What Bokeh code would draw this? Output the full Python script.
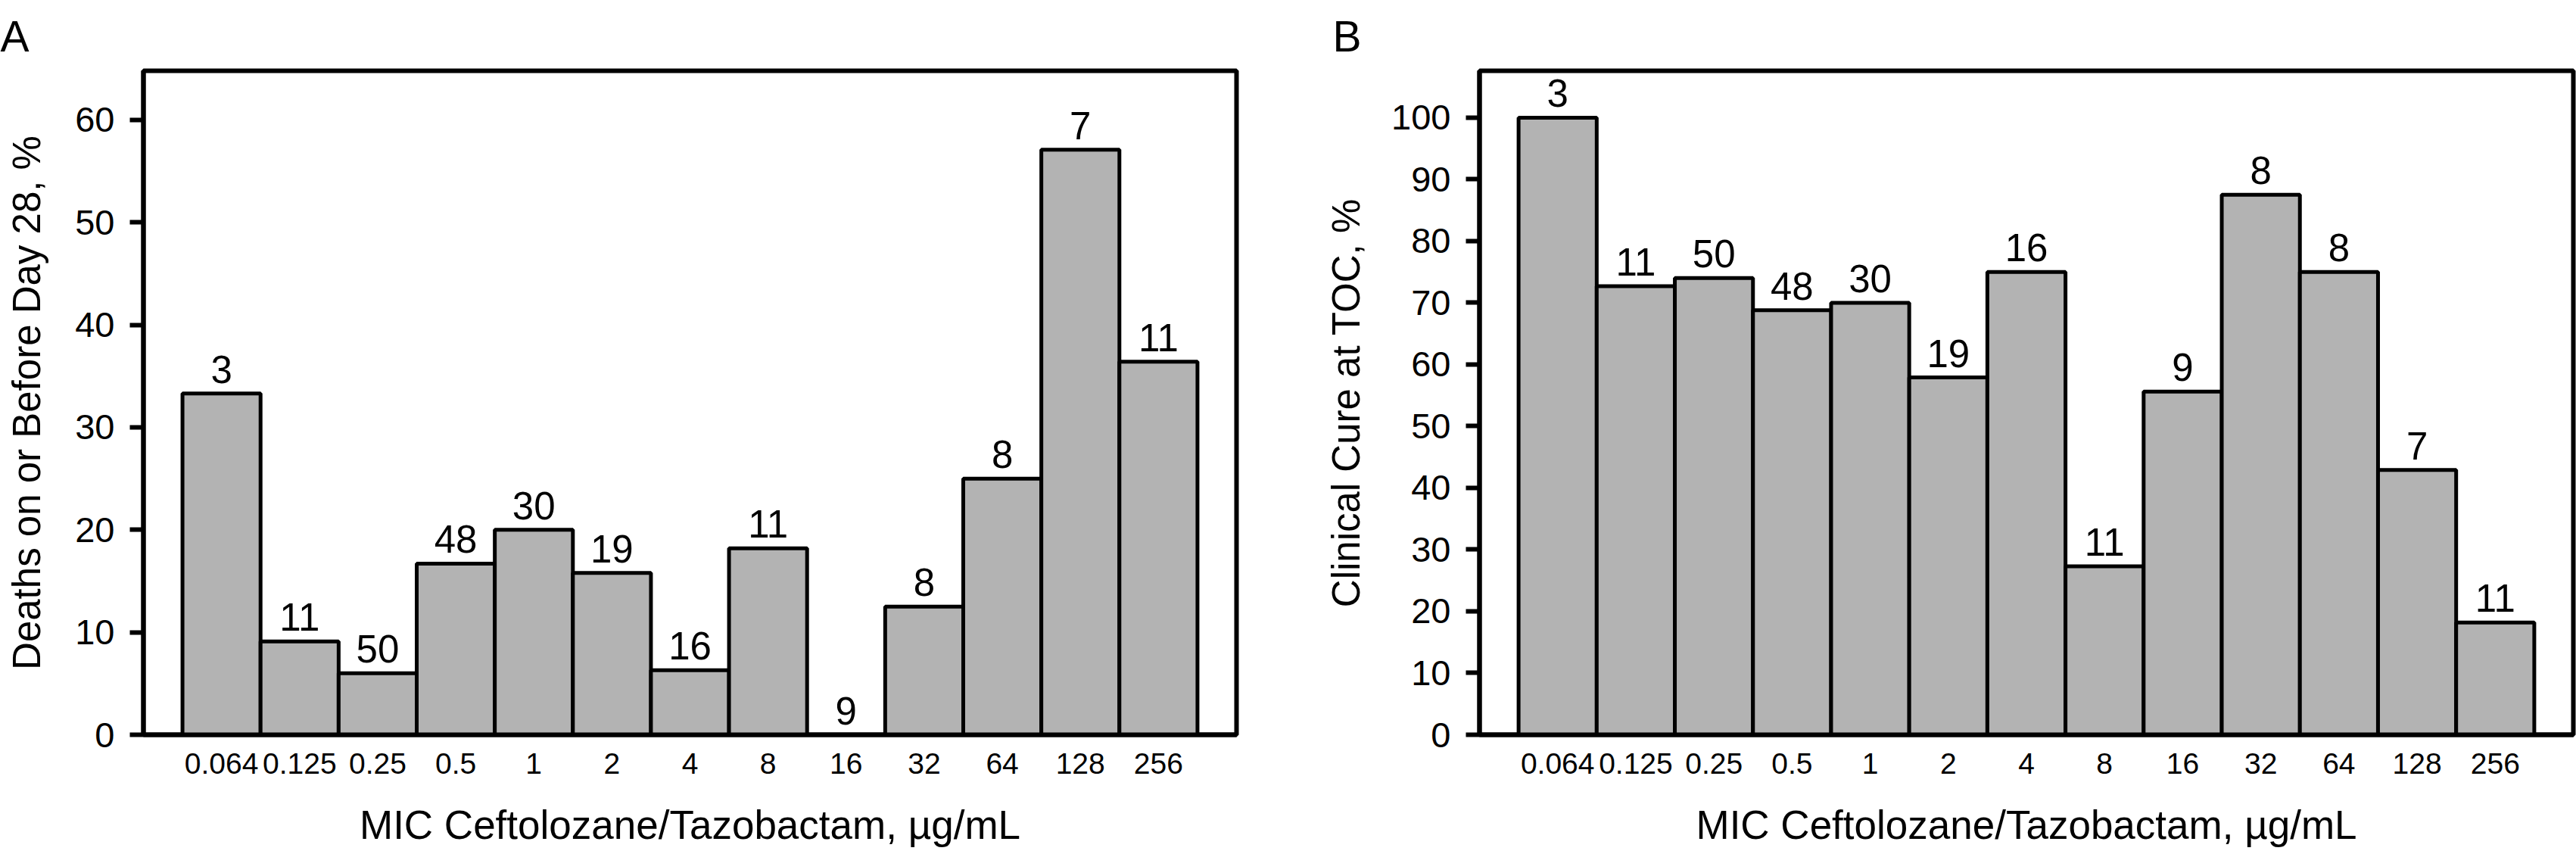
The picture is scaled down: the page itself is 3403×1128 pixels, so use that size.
from bokeh.plotting import figure
from bokeh.models import FactorRange, Range1d, FixedTicker
from bokeh.layouts import row
from bokeh.embed import file_html
from bokeh.resources import INLINE
from bokeh.core.properties import value

# ---- data ----
mic = ["0.064", "0.125", "0.25", "0.5", "1", "2", "4", "8", "16", "32", "64", "128", "256"]
deaths_pct = [33.3, 9.1, 6.0, 16.7, 20.0, 15.8, 6.3, 18.2, 0.0, 12.5, 25.0, 57.1, 36.4]
deaths_n = [3, 11, 50, 48, 30, 19, 16, 11, 9, 8, 8, 7, 11]
cure_pct = [100.0, 72.7, 74.0, 68.8, 70.0, 57.9, 75.0, 27.3, 55.6, 87.5, 75.0, 42.9, 18.2]
cure_n = [3, 11, 50, 48, 30, 19, 16, 11, 9, 8, 8, 7, 11]
deaths_ticks = [0, 10, 20, 30, 40, 50, 60]
cure_ticks = [0, 10, 20, 30, 40, 50, 60, 70, 80, 90, 100]
xlabel = "MIC Ceftolozane/Tazobactam, \u00b5g/mL"
ylabel_a = "Deaths on or Before Day 28, %"
ylabel_b = "Clinical Cure at TOC, %"

FONT = "Liberation Sans"


def make_panel(letter, vals, ns, ylabel, yend, yticks, width, bl, br, letter_offset, title_standoff):
    p = figure(
        x_range=FactorRange(*mic, range_padding=0.5, range_padding_units="absolute"),
        y_range=Range1d(0, yend),
        width=width, height=1128,
        output_backend="svg", toolbar_location=None,
        min_border_left=bl, min_border_right=br,
        min_border_top=93, min_border_bottom=158,
        title=letter,
    )
    p.title.align = "left"
    p.title.offset = letter_offset
    p.title.text_font = FONT
    p.title.text_font_size = "57px"
    p.title.text_font_style = "normal"
    p.title.text_color = "black"
    p.title.standoff = 27

    p.vbar(x=mic, top=vals, width=1.0, fill_color="#b3b3b3",
           line_color="black", line_width=5)
    p.text(x=mic, y=vals, text=[str(n) for n in ns],
           text_align="center", text_baseline="alphabetic", y_offset=-32,
           text_font=value(FONT), text_font_size="51px", text_color="black")

    p.xgrid.visible = False
    p.ygrid.visible = False
    p.outline_line_color = "black"
    p.outline_line_width = 6
    p.background_fill_color = "white"
    p.border_fill_color = "white"

    ya = p.yaxis[0]
    ya.ticker = FixedTicker(ticks=yticks)
    ya.axis_line_width = 6
    ya.major_tick_line_width = 6
    ya.major_tick_out = 18
    ya.major_tick_in = 0
    ya.minor_tick_line_color = None
    ya.major_label_standoff = 20
    ya.major_label_text_font = FONT
    ya.major_label_text_font_size = "47px"
    ya.major_label_text_color = "black"
    ya.axis_label = ylabel
    ya.axis_label_text_font = FONT
    ya.axis_label_text_font_size = "51px"
    ya.axis_label_text_font_style = "normal"
    ya.axis_label_text_color = "black"
    ya.axis_label_standoff = title_standoff

    xa = p.xaxis[0]
    xa.axis_line_width = 6
    xa.major_tick_out = 0
    xa.major_tick_in = 0
    xa.major_tick_line_color = None
    xa.minor_tick_line_color = None
    xa.major_label_standoff = 24
    xa.major_label_text_font = FONT
    xa.major_label_text_font_size = "39px"
    xa.major_label_text_color = "black"
    xa.axis_label = xlabel
    xa.axis_label_text_font = FONT
    xa.axis_label_text_font_size = "53px"
    xa.axis_label_text_font_style = "normal"
    xa.axis_label_text_color = "black"
    xa.axis_label_standoff = 35
    return p


pa = make_panel("A", deaths_pct, deaths_n, ylabel_a, 64.8, deaths_ticks,
                1700, 189, 67, -189, 32)
pb = make_panel("B", cure_pct, cure_n, ylabel_b, 107.6, cure_ticks,
                1703, 254, 4, -194, 28)

layout = row(pa, pb, spacing=0)
open("out.html", "w").write(file_html(layout, INLINE))
